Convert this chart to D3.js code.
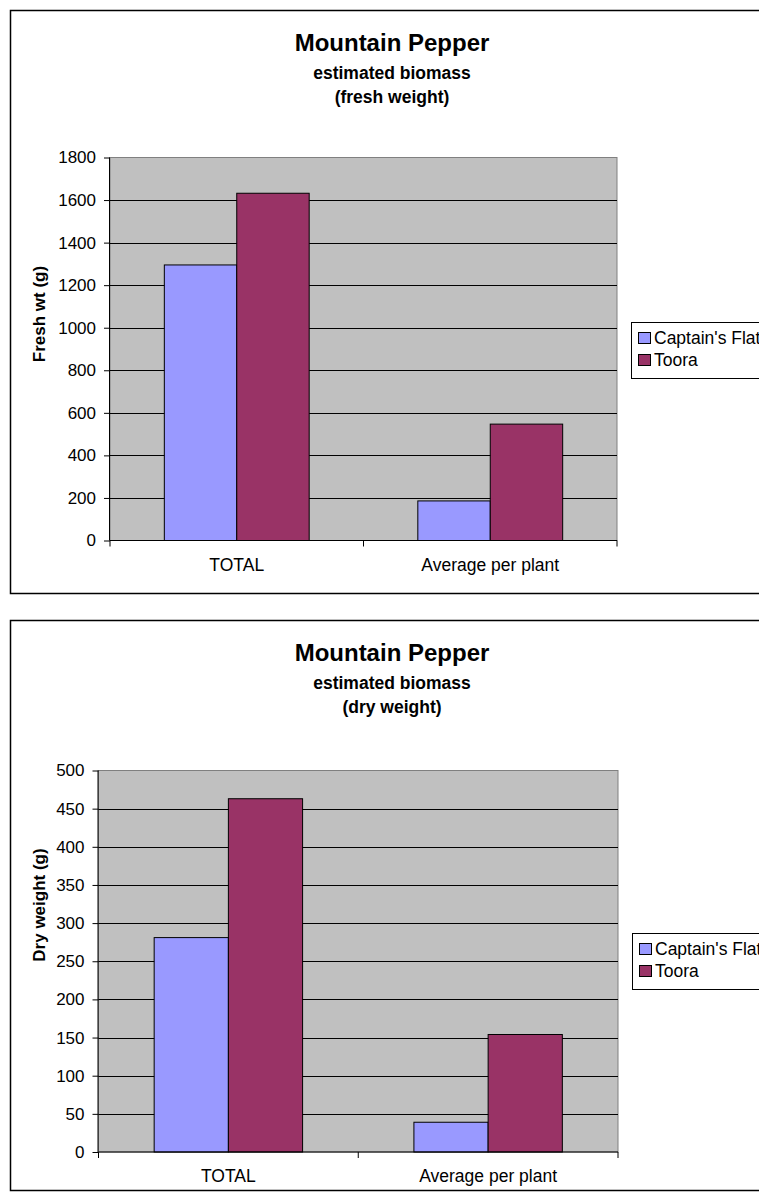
<!DOCTYPE html>
<html><head><meta charset="utf-8">
<script src="https://cdn.jsdelivr.net/npm/d3@7"></script>
<style>
html,body{margin:0;padding:0;background:#fff;}
svg{display:block;font-family:"Liberation Sans",Arial,sans-serif;}
</style></head>
<body>
<script>
// ---- data ----
const categories = ["TOTAL", "Average per plant"];
const seriesNames = ["Captain's Flat", "Toora"];
const seriesColors = ["#9999FF", "#993366"];
const freshCaptainsFlat = [1295, 186];
const freshToora = [1632, 547];
const dryCaptainsFlat = [281, 39];
const dryToora = [463, 154];
const freshTicks = [0, 200, 400, 600, 800, 1000, 1200, 1400, 1600, 1800];
const dryTicks = [0, 50, 100, 150, 200, 250, 300, 350, 400, 450, 500];
const titleMain = "Mountain Pepper";
const titleSub = "estimated biomass";
const freshSub2 = "(fresh weight)";
const drySub2 = "(dry weight)";
const freshYLabel = "Fresh wt (g)";
const dryYLabel = "Dry weight (g)";

const charts = [
  {sub2: freshSub2, ylabel: freshYLabel, series: [freshCaptainsFlat, freshToora], ticks: freshTicks, max: 1800,
   frame: {x: 10, y: 10, w: 764, h: 583}, plot: {l: 110, t: 157.5, r: 617, b: 540.5}, legend: {x: 631, y: 322},
   ylabelY: 314},
  {sub2: drySub2, ylabel: dryYLabel, series: [dryCaptainsFlat, dryToora], ticks: dryTicks, max: 500,
   frame: {x: 10, y: 620, w: 764, h: 570}, plot: {l: 98.5, t: 770.5, r: 618, b: 1152}, legend: {x: 632, y: 933},
   ylabelY: 905}
];

const W = 759, H = 1198;
const svg = d3.select("body").append("svg").attr("width", W).attr("height", H);

charts.forEach(c => {
  const g = svg.append("g");
  const f = c.frame;
  g.append("rect").attr("x", f.x + 0.5).attr("y", f.y + 0.5).attr("width", f.w).attr("height", f.h)
    .attr("fill", "#fff").attr("stroke", "#000").attr("stroke-width", 1.5);

  const p = c.plot;
  const cx = f.x + f.w / 2;
  g.append("text").attr("x", cx).attr("y", f.y + 41).attr("text-anchor", "middle")
    .attr("font-weight", "bold").attr("font-size", 24).text(titleMain);
  g.append("text").attr("x", cx).attr("y", f.y + 68.5).attr("text-anchor", "middle")
    .attr("font-weight", "bold").attr("font-size", 17.5).text(titleSub);
  g.append("text").attr("x", cx).attr("y", f.y + 93).attr("text-anchor", "middle")
    .attr("font-weight", "bold").attr("font-size", 17.5).text(c.sub2);

  const y = d3.scaleLinear().domain([0, c.max]).range([p.b, p.t]);
  const x0 = d3.scaleBand().domain(categories).range([p.l, p.r]).padding(0);
  const barW = x0.bandwidth() / 3.5;
  const x1 = d3.scaleBand().domain(seriesNames).range([0, barW * 2]).padding(0);

  // plot background
  g.append("rect").attr("x", p.l).attr("y", p.t).attr("width", p.r - p.l).attr("height", p.b - p.t)
    .attr("fill", "#C0C0C0").attr("stroke", "#808080").attr("stroke-width", 1);

  // gridlines
  g.append("g").selectAll("line").data(c.ticks.filter(t => t > 0 && t < c.max)).join("line")
    .attr("x1", p.l).attr("x2", p.r)
    .attr("y1", d => Math.round(y(d)) + 0.5).attr("y2", d => Math.round(y(d)) + 0.5)
    .attr("stroke", "#000").attr("stroke-width", 1);

  // bars
  categories.forEach((cat, i) => {
    seriesNames.forEach((s, j) => {
      const v = c.series[j][i];
      const bx = x0(cat) + (x0.bandwidth() - barW * 2) / 2 + x1(s);
      g.append("rect").attr("x", bx).attr("y", y(v)).attr("width", x1.bandwidth()).attr("height", p.b - y(v))
        .attr("fill", seriesColors[j]).attr("stroke", "#000").attr("stroke-width", 1);
    });
  });

  // y axis
  const yAxis = d3.axisLeft(y).tickValues(c.ticks).tickSize(6).tickPadding(8).tickFormat(d3.format("d"));
  const ya = g.append("g").attr("transform", `translate(${p.l},0)`).call(yAxis);
  ya.select(".domain").attr("d", `M-0.5,${p.t}V${p.b}`).attr("stroke", "#000");
  ya.selectAll(".tick line").attr("stroke", "#000");
  ya.selectAll(".tick text").attr("font-size", 17).attr("font-family", "Liberation Sans, Arial, sans-serif").attr("fill", "#000");

  // x axis
  const xa = g.append("g").attr("transform", `translate(0,${p.b})`);
  xa.append("line").attr("x1", p.l).attr("x2", p.r).attr("y1", 0).attr("y2", 0).attr("stroke", "#000");
  const bounds = [p.l, ...categories.map(cat => x0(cat) + x0.bandwidth())];
  xa.selectAll("line.tk").data(bounds).join("line").attr("class", "tk")
    .attr("x1", d => d).attr("x2", d => d).attr("y1", 0).attr("y2", 6).attr("stroke", "#000");
  xa.selectAll("text").data(categories).join("text")
    .attr("x", d => x0(d) + x0.bandwidth() / 2).attr("y", 30).attr("text-anchor", "middle")
    .attr("font-size", 17.5).text(d => d);

  // y label
  g.append("text").attr("transform", `translate(45,${c.ylabelY}) rotate(-90)`).attr("text-anchor", "middle")
    .attr("font-weight", "bold").attr("font-size", 17).text(c.ylabel);

  // legend
  const L = c.legend;
  g.append("rect").attr("x", L.x + 0.5).attr("y", L.y + 0.5).attr("width", 170).attr("height", 56)
    .attr("fill", "#fff").attr("stroke", "#000").attr("stroke-width", 1);
  seriesNames.forEach((s, j) => {
    g.append("rect").attr("x", L.x + 7.5).attr("y", L.y + 10.5 + j * 22).attr("width", 12).attr("height", 11)
      .attr("fill", seriesColors[j]).attr("stroke", "#000").attr("stroke-width", 1);
    g.append("text").attr("x", L.x + 23).attr("y", L.y + 21.5 + j * 22).attr("font-size", 17.5).text(s);
  });
});
</script>
</body></html>
